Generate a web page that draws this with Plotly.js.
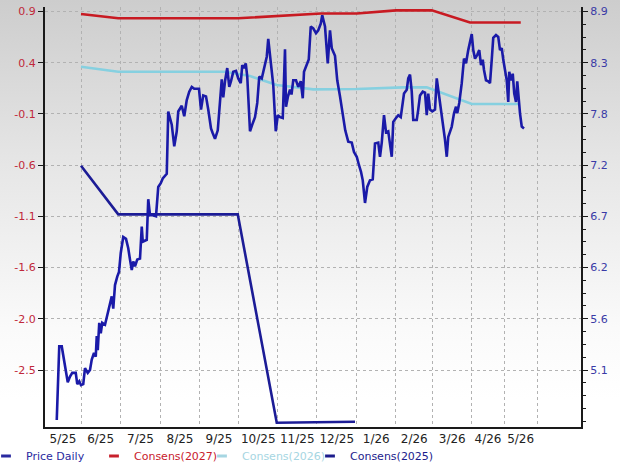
<!DOCTYPE html>
<html><head><meta charset="utf-8">
<script src="https://cdn.plot.ly/plotly-3.0.1.min.js"></script>
<style>
html,body{margin:0;padding:0;background:#fff;overflow:hidden;width:620px;height:469px}
#wrap{position:absolute;left:-21px;top:0;width:641px;height:469px;
  background:linear-gradient(180deg,#cdcdcd 0%,#e6e6e6 35%,#fafafa 70%,#ffffff 85%)}
#chart{width:641px;height:469px}
</style></head>
<body><div id="wrap"><div id="chart"></div></div>
<script>
// days are counted from this base date
const baseDate = '2025-06-01';

const xTickLabels = ['5/25','6/25','7/25','8/25','9/25','10/25','11/25','12/25','1/26','2/26','3/26','4/26','5/26'];
const gridDays = [0,31.4,63.8,94.6,126.2,157.4,188.6,220.6,251.8,281.4,312.6,338.6,364.8];
const yLeftTickLabels = ['0.9','0.4','-0.1','-0.6','-1.1','-1.6','-2.0','-2.5'];
const yRightTickLabels = ['8.9','8.3','7.8','7.2','6.7','6.2','5.6','5.1'];

const priceDay = [-19.4,-18.6,-17.4,-15.4,-13.4,-12.2,-10.6,-8.8,-7.0,-4.2,-3.0,-1.4,0,1.8,3.2,5.4,7.2,8.6,10.4,11.8,12.6,13.4,14.6,15.8,17.0,19.2,21.4,23.2,24.6,25.8,27.2,29.0,30.4,31.8,33.8,36.0,37.8,39.2,40.6,41.8,43.2,45.0,47.2,48.6,49.4,52.6,53.8,55.2,57.4,60.0,61.8,63.8,65.4,68.6,69.8,72.6,74.6,76.6,77.8,80.6,82.6,84.6,86.6,88.6,90.6,94.4,96.0,97.8,100.0,101.8,104.0,105.4,107.2,109.4,111.2,112.6,113.8,115.2,117.0,118.6,120.0,121.8,124.0,125.8,127.8,129.0,130.4,131.8,133.0,135.2,137.0,139.2,141.0,142.6,144.6,146.4,148.6,149.8,151.8,153.8,155.8,157.4,159.2,161.4,163.2,164.0,165.6,167.2,168.4,169.8,172.0,173.8,175.8,177.4,178.4,180.6,182.2,183.8,185.8,188.0,189.8,191.8,193.0,195.2,197.4,199.2,200.6,203.2,205.0,207.2,209.4,211.4,213.8,216.6,218.4,220.6,222.4,224.0,225.4,227.2,229.0,231.2,233.4,235.2,237.8,239.2,240.6,242.4,244.0,245.8,248.6,249.8,252.0,253.8,255.8,257.0,258.4,260.6,261.8,263.2,264.6,265.8,268.6,269.8,271.2,273.4,275.2,276.6,277.8,279.2,281.0,283.2,284.6,285.8,287.8,289.4,291.2,292.6,293.8,296.6,298.4,300.0,301.0,302.6,304.6,306.4,308.0,309.8,311.2,312.6,313.8,315.2,317.0,318.6,320.0,321.4,322.4,324.0,325.8,327.2,328.6,329.8,332.0,333.8,335.2,336.6,337.8,339.2,340.6,341.8,342.6,344.0,345.4,346.6,348.0,349.0,350.2,351.2,352.6,354.4];
const priceVal = [4.57,4.89,5.35,5.35,5.17,5.10,4.97,5.03,5.07,5.07,4.95,4.98,4.94,4.95,5.12,5.07,5.10,5.21,5.28,5.24,5.46,5.31,5.60,5.49,5.60,5.58,5.70,5.79,5.88,5.75,6.00,6.09,6.14,6.34,6.51,6.49,6.39,6.27,6.16,6.25,6.20,6.27,6.28,6.62,6.46,6.48,6.91,6.74,6.74,6.73,7.04,7.08,7.13,7.18,7.84,7.70,7.47,7.63,7.84,7.90,7.79,7.96,8.05,8.10,8.08,8.08,7.86,8.01,8.00,7.86,7.66,7.61,7.55,7.64,7.93,8.18,7.99,8.16,8.30,8.10,8.16,8.26,8.27,8.19,8.14,8.33,8.30,8.35,8.21,7.63,7.70,7.78,7.93,8.21,8.19,8.31,8.42,8.61,8.37,8.12,7.63,7.80,7.78,7.77,8.50,7.89,8.00,8.07,8.02,8.17,8.17,8.10,8.16,7.98,8.26,8.33,8.39,8.74,8.72,8.67,8.70,8.77,8.86,8.74,8.35,8.70,8.51,8.43,8.17,8.00,7.78,7.64,7.52,7.51,7.41,7.36,7.27,7.20,7.11,6.87,7.04,7.11,7.12,7.50,7.51,7.36,7.51,7.80,7.62,7.63,7.36,7.73,7.77,7.80,7.78,7.89,8.03,8.07,8.19,8.23,8.05,7.75,7.75,7.86,8.01,8.05,8.04,7.80,8.03,7.86,7.84,7.86,8.19,8.07,7.89,7.71,7.54,7.36,7.57,7.68,7.82,7.89,7.82,7.93,8.14,8.40,8.35,8.49,8.56,8.66,8.49,8.40,8.44,8.49,8.33,8.39,8.28,8.17,8.16,8.14,8.39,8.62,8.65,8.63,8.49,8.51,8.39,8.28,8.17,7.94,8.26,8.17,8.24,8.03,7.94,8.16,7.96,7.82,7.68,7.66];

const cons2027Day = [0,29.8,125.6,159.2,192,220.6,252,280.6,311.2,351.8];
const cons2027Val = [0.875,0.835,0.835,0.856,0.880,0.880,0.910,0.910,0.795,0.795];
const cons2026Day = [0,29.8,115.2,135.2,156.6,185.8,220.6,257.6,276.6,312.6,349.8];
const cons2026Val = [0.376,0.328,0.328,0.288,0.202,0.161,0.164,0.180,0.180,0.022,0.022];
const cons2025Day = [0,29.8,125.4,156.6,219.2];
const cons2025Val = [-0.563,-1.024,-1.024,-3.000,-2.990];

const baseMs = Date.parse(baseDate + 'T00:00:00Z');
function toDate(d){ return new Date(baseMs + d*86400000).toISOString().slice(0,19).replace('T',' '); }

const FONT = 'DejaVu Sans, Verdana, sans-serif';
const C_PRICE = '#1a1aa8', C_27 = '#c81a22', C_26 = '#86d0e0', C_25 = '#1c1c96';

const xRange = [toDate(-28.8), toDate(400)];
const labelDays = gridDays.map((g,i) => i === 0 ? (-28.8 + g)/2 : (gridDays[i-1] + g)/2);

const leftStep = 0.4857, rightStep = 0.5429;
const leftTickVals = yLeftTickLabels.map((_,i) => 0.9 - i*leftStep);
const rightTickVals = yRightTickLabels.map((_,i) => 8.9 - i*rightStep);

const line = (days, vals, color, name, xa, ya) => ({
  type:'scatter', mode:'lines', x: days.map(toDate), y: vals, name: name,
  xaxis: xa, yaxis: ya, showlegend:false, hoverinfo:'skip',
  line:{color:color, width:2.6}
});
const legendItem = (name, color, opacity) => ({
  type:'scatter', mode:'markers', x:[null], y:[null], xaxis:'x2', yaxis:'y',
  name: name ? '<span style="color:'+color+'">'+name+'</span>' : ' ', showlegend:true,
  marker:{symbol:'line-ew', size:7, opacity: opacity, line:{color:color, width:3}}
});

const data = [
  line(cons2026Day, cons2026Val, C_26, 'Consens(2026)', 'x', 'y'),
  line(cons2027Day, cons2027Val, C_27, 'Consens(2027)', 'x', 'y'),
  line(cons2025Day, cons2025Val, C_25, 'Consens(2025)', 'x', 'y'),
  line(priceDay, priceVal, C_PRICE, 'Price Daily', 'x', 'y2'),
  legendItem('Price Daily', '#2a2aa0', 1),
  legendItem('Consens(2027)', '#c8202c', 1),
  legendItem('Consens(2026)', '#a6d6e2', 1),
  legendItem('Consens(2025)', '#1c1c8c', 1),
  legendItem('', 'rgba(0,0,0,0)', 0)   // spacer so the last entry's text is not clipped
];

const layout = {
  width:641, height:469,
  margin:{l:66, r:39, t:7, b:42, autoexpand:false},
  paper_bgcolor:'rgba(0,0,0,0)', plot_bgcolor:'rgba(0,0,0,0)',
  font:{family:FONT, size:11, color:'#222'},
  showlegend:true,
  legend:{orientation:'h', xref:'container', yref:'container', x:7/641, xanchor:'left',
    y:(469-456)/469, yanchor:'middle',
    entrywidth:63, font:{family:FONT, size:11}, bgcolor:'rgba(0,0,0,0)', itemclick:false},
  xaxis:{type:'date', range:xRange, tickmode:'array', tickvals:labelDays.map(toDate), ticktext:xTickLabels,
    showgrid:false, zeroline:false, ticks:'', showline:true, linecolor:'#1a1a1a', linewidth:2,
    tickfont:{family:FONT, size:12, color:'#222'}, fixedrange:true, automargin:false},
  xaxis2:{type:'date', range:xRange, overlaying:'x', anchor:'y', side:'bottom', tickmode:'array',
    tickvals:gridDays.map(toDate), showticklabels:false, ticks:'', showline:false,
    showgrid:true, gridcolor:'#b2b2b2', griddash:'dot', gridwidth:1, zeroline:false},
  yaxis:{range:[-3.040, 0.942], tickmode:'array', tickvals:leftTickVals, ticktext:yLeftTickLabels,
    showgrid:true, gridcolor:'#b2b2b2', griddash:'dot', gridwidth:1, zeroline:false,
    showline:true, linecolor:'#1a1a1a', linewidth:2, ticks:'outside', ticklen:5, tickcolor:'#1a1a1a',
    tickfont:{family:FONT, size:11, color:'#c0283a'}, fixedrange:true, automargin:false},
  yaxis2:{range:[4.496, 8.947], overlaying:'y', side:'right', anchor:'x', tickmode:'array',
    tickvals:rightTickVals, ticktext:yRightTickLabels, showgrid:false, zeroline:false,
    showline:true, linecolor:'#1a1a1a', linewidth:2, ticks:'outside', ticklen:5, tickcolor:'#1a1a1a',
    minor:{ticks:'outside', ticklen:3, tickcolor:'#1a1a1a', tickmode:'linear', tick0:5.1, dtick:rightStep/4, showgrid:false},
    tickfont:{family:FONT, size:11, color:'#3a3aa6'}, fixedrange:true, automargin:false}
};

Plotly.newPlot('chart', data, layout, {displayModeBar:false, staticPlot:true});
</script>
</body></html>
